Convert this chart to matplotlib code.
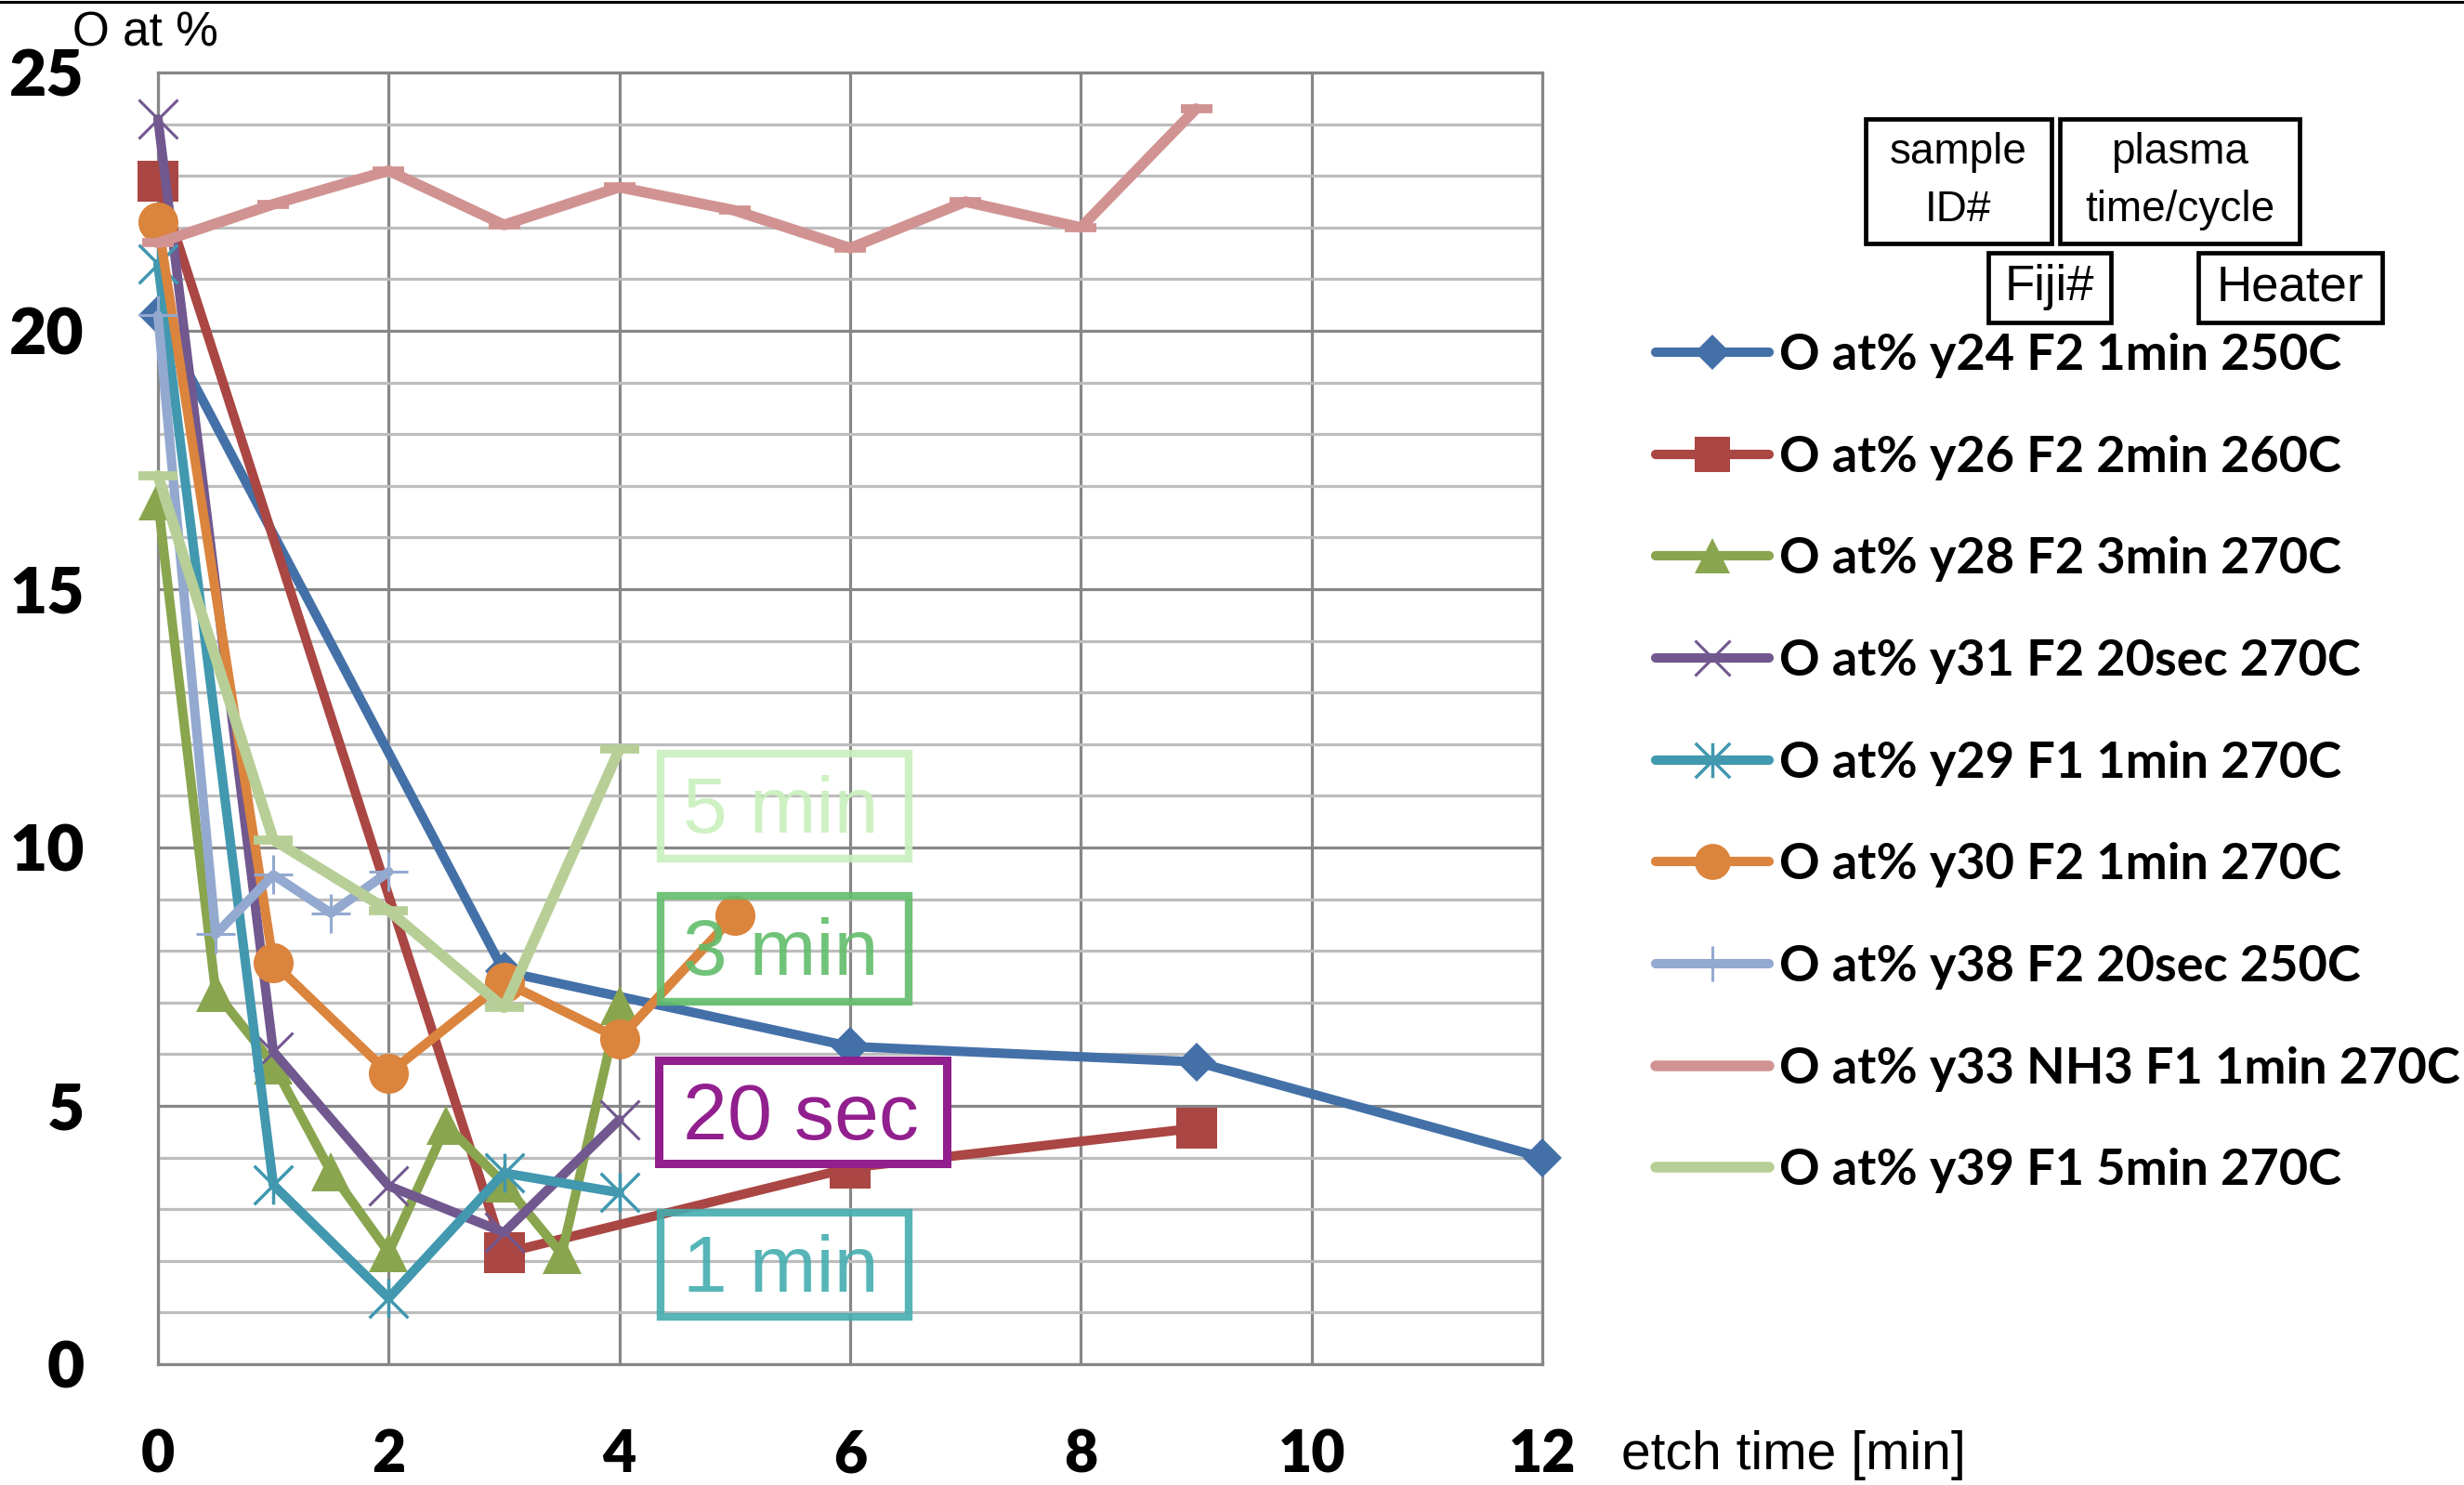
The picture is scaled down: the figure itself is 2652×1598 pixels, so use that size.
import matplotlib
matplotlib.use('Agg')
import matplotlib.pyplot as plt
from matplotlib.path import Path
from matplotlib.patches import Rectangle
from matplotlib.lines import Line2D

# etch time [min] / O at%
t_y24 = [0, 3, 6, 9, 12]
o_y24 = [20.3, 7.6, 6.15, 5.85, 4.0]
t_y26 = [0, 3, 6, 9]
o_y26 = [22.9, 2.15, 3.8, 4.57]
t_y28 = [0, 0.5, 1, 1.5, 2, 2.5, 3, 3.5, 4]
o_y28 = [16.7, 7.2, 5.8, 3.72, 2.16, 4.62, 3.5, 2.13, 6.95]
t_y31 = [0, 1, 2, 3, 4]
o_y31 = [24.1, 6.05, 3.45, 2.55, 4.73]
t_y29 = [0, 1, 2, 3, 4]
o_y29 = [21.3, 3.47, 1.28, 3.7, 3.32]
t_y30 = [0, 1, 2, 3, 4, 5]
o_y30 = [22.1, 7.77, 5.63, 7.4, 6.3, 8.69]
t_y38 = [0, 0.5, 1, 1.5, 2]
o_y38 = [20.3, 8.32, 9.47, 8.73, 9.53]
t_y33 = [0, 1, 2, 3, 4, 5, 6, 7, 8, 9]
o_y33 = [21.7, 22.45, 23.1, 22.05, 22.78, 22.33, 21.6, 22.5, 22.0, 24.3]
t_y39 = [0, 1, 2, 3, 4]
o_y39 = [17.2, 10.15, 8.78, 6.9, 11.9]

labels = ['O at% y24 F2 1min 250C', 'O at% y26 F2 2min 260C', 'O at% y28 F2 3min 270C',
          'O at% y31 F2 20sec 270C', 'O at% y29 F1 1min 270C', 'O at% y30 F2 1min 270C',
          'O at% y38 F2 20sec 250C', 'O at% y33 NH3 F1 1min 270C', 'O at% y39 F1 5min 270C']

x_ticks = [0, 2, 4, 6, 8, 10, 12]
y_ticks = [0, 5, 10, 15, 20, 25]

# annotation boxes: text, colour
notes = [('5 min', '#c9f0bd'), ('3 min', '#62bd6a'), ('20 sec', '#921f8e'), ('1 min', '#45adb0')]

W, H = 2652, 1598
fig = plt.figure(figsize=(W / 100, H / 100), dpi=100)
ax = fig.add_axes([170 / W, 1 - 1468 / H, 1490 / W, 1390 / H])

# asterisk marker like excel (x with a vertical bar)
star = Path([(-1, -1), (1, 1), (-1, 1), (1, -1), (0, -1), (0, 1)],
            [Path.MOVETO, Path.LINETO, Path.MOVETO, Path.LINETO, Path.MOVETO, Path.LINETO])

series = [
    (t_y24, o_y24, '#4470a8', 'D', 21, 0, None),
    (t_y26, o_y26, '#aa4643', 's', 31, 0, None),
    (t_y28, o_y28, '#89a54e', '^', 30, 0, None),
    (t_y31, o_y31, '#71588f', 'x', 30, 2.2, None),
    (t_y29, o_y29, '#4198af', star, 30, 2.5, 'none'),
    (t_y30, o_y30, '#db843d', 'o', 31, 0, None),
    (t_y38, o_y38, '#93a9cf', '+', 30, 2.2, None),
    (t_y33, o_y33, '#d19392', '_', 24, 7, None),
    (t_y39, o_y39, '#b7cf96', '_', 30, 7, None),
]

lines = []
for i, (xs, ys, c, m, ms, mew, mfc) in enumerate(series):
    kw = dict(color=c, lw=7.3, marker=m, ms=ms, mew=mew, mec=c, clip_on=False, zorder=3 + i * 0.1,
              solid_joinstyle='round', solid_capstyle='round')
    if mfc is not None:
        kw['mfc'] = mfc
    else:
        kw['mfc'] = c
    if m == '_':
        kw['lw'] = 8.3
    ln, = ax.plot(xs, ys, **kw)
    lines.append(ln)

ax.set_xlim(0, 12)
ax.set_ylim(0, 25)
ax.set_xticks(x_ticks)
ax.set_yticks(y_ticks)
ax.set_yticks(range(0, 26), minor=True)
ax.grid(True, which='major', color='#878787', lw=2.3, zorder=0)
ax.grid(True, which='minor', axis='y', color='#bdbdbd', lw=2.3, zorder=0)
for s in ax.spines.values():
    s.set_color('#878787')
    s.set_linewidth(2.3)
ax.tick_params(which='both', length=0)
ax.tick_params(axis='y', pad=57)
ax.tick_params(axis='x', pad=50)
for lab in ax.get_yticklabels():
    lab.set_fontfamily('Lato')
    lab.set_fontweight('heavy')
    lab.set_fontsize(50)
for lab in ax.get_xticklabels():
    lab.set_fontfamily('Lato')
    lab.set_fontweight('heavy')
    lab.set_fontsize(45)

# coloured labels inside the plot
box_x = [(4.36, 6.51), (4.36, 6.51), (4.34, 6.84), (4.36, 6.51)]
box_y = [(9.78, 11.82), (7.02, 9.07), (3.88, 5.88), (0.92, 2.94)]
base_y = [10.29, 7.53, 4.36, 1.40]
for (txt, c), (x0, x1), (y0, y1), by in zip(notes, box_x, box_y, base_y):
    filled = txt == '20 sec'
    ax.add_patch(Rectangle((x0, y0), x1 - x0, y1 - y0, fill=filled, fc='white', ec=c,
                           lw=6.5 if filled else 6, alpha=1 if filled else 0.9, zorder=5, clip_on=False))
    ax.text(4.55, by, txt, color=c, fontsize=62, family='Liberation Sans', va='baseline', ha='left',
            alpha=1 if filled else 0.9, zorder=6)

# axis titles
fig.text(78 / W, 1 - 50 / H, 'O at %', fontsize=37, family='Liberation Sans', va='baseline', ha='left')
fig.text(1745 / W, 1 - 1581 / H, 'etch time [min]', fontsize=41, family='Liberation Sans',
         va='baseline', ha='left')

# legend
fig.legend(lines, labels, loc='upper left', bbox_to_anchor=(1782 / W, 1 - 358 / H), frameon=False,
           prop={'family': 'Lato', 'weight': 'bold', 'size': 39}, handlelength=2.25, handletextpad=0.2,
           labelspacing=1.12, borderpad=0, borderaxespad=0, markerscale=0.9)


# header boxes above the legend
def head_box(x0, y0, x1, y1, txt, size):
    fig.add_artist(Rectangle((x0 / W, 1 - y1 / H), (x1 - x0) / W, (y1 - y0) / H, fill=False,
                             ec='black', lw=3.4, transform=fig.transFigure))
    fig.text((x0 + x1) / 2 / W, 1 - (y0 + y1) / 2 / H, txt, fontsize=size, family='Liberation Sans',
             ha='center', va='center', linespacing=1.5)


head_box(2008, 128, 2208, 262, 'sample\nID#', 33)
head_box(2217, 128, 2475, 262, 'plasma\ntime/cycle', 33)
head_box(2140, 272, 2272, 347, 'Fiji#', 38)
head_box(2366, 272, 2564, 347, 'Heater', 38)

# thin black rule along the top edge
fig.add_artist(Line2D([0, 1], [1 - 1.5 / H, 1 - 1.5 / H], color='black', lw=2.2, transform=fig.transFigure))

fig.savefig('out.png', dpi=100)
